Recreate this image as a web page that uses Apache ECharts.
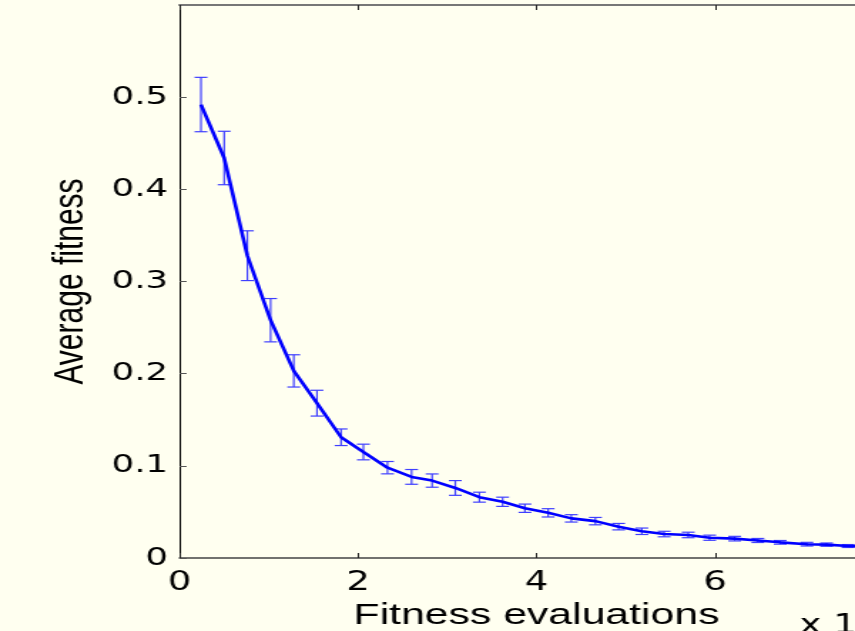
<!DOCTYPE html>
<html>
<head>
<meta charset="utf-8">
<script src="https://cdn.jsdelivr.net/npm/echarts@6/dist/echarts.min.js"></script>
<style>
html, body { margin: 0; padding: 0; background: #fffff0; overflow: hidden; }
/* the original figure is stretched sideways, so draw narrow and widen */
#chart { width: 600px; height: 631px; transform: scaleX(1.425); transform-origin: 0 0; }
</style>
</head>
<body>
<div id="chart"></div>
<script>
// fitness evaluations (x 10^4)
var evals = [0.24, 0.50, 0.76, 1.02, 1.28, 1.54, 1.81, 2.06, 2.33, 2.60,
             2.83, 3.09, 3.36, 3.62, 3.87, 4.13, 4.39, 4.66, 4.92, 5.18,
             5.43, 5.70, 5.94, 6.22, 6.48, 6.73, 7.03, 7.25, 7.49, 7.76];
// average fitness
var avgFitness = [0.492, 0.434, 0.328, 0.258, 0.203, 0.168, 0.131, 0.115, 0.098, 0.088,
                  0.084, 0.076, 0.066, 0.061, 0.054, 0.049, 0.043, 0.040, 0.034, 0.029,
                  0.026, 0.025, 0.022, 0.021, 0.019, 0.017, 0.015, 0.0145, 0.013, 0.0125];
// half height of each error bar
var errHalf = [0.0295, 0.029, 0.027, 0.0235, 0.0175, 0.014, 0.009, 0.0085, 0.0067, 0.008,
               0.0072, 0.008, 0.0054, 0.005, 0.0045, 0.0045, 0.004, 0.004, 0.0035, 0.0035,
               0.003, 0.003, 0.0028, 0.0025, 0.0022, 0.002, 0.002, 0.0018, 0.0016, 0.0015];
var xTickLabels = ['0', '2', '4', '6', '8'];
var yTickLabels = ['0', '0.1', '0.2', '0.3', '0.4', '0.5', '0.6'];

var lineData = evals.map(function (x, i) { return [x, avgFitness[i]]; });
var errData = evals.map(function (x, i) {
    return [x, avgFitness[i] - errHalf[i], avgFitness[i] + errHalf[i]];
});

var font = 'Liberation Sans, Arial, Helvetica, sans-serif';
var tickFont = 'DejaVu Sans, sans-serif';
var chart = echarts.init(document.getElementById('chart'));
chart.setOption({
    animation: false,
    backgroundColor: '#fffff0',
    grid: { left: 126, right: -27, top: 5, bottom: 73, outerBoundsMode: 'none' },
    xAxis: [{
        type: 'value', min: 0, max: 8, interval: 2, position: 'bottom',
        axisLine: { lineStyle: { color: '#444', width: 1.5 } },
        axisTick: { inside: true, length: 5, lineStyle: { color: '#222' } },
        splitLine: { show: false },
        axisLabel: {
            color: '#000', fontSize: 26, fontFamily: tickFont, margin: 12,
            showMaxLabel: false,
            formatter: function (v) { return xTickLabels[Math.round(v / 2)]; }
        },
        name: 'Fitness evaluations', nameLocation: 'middle', nameGap: 38,
        nameTextStyle: { color: '#000', fontSize: 30, fontFamily: font }
    }, {
        type: 'value', min: 0, max: 8, interval: 2, position: 'top',
        axisLine: { lineStyle: { color: '#777', width: 2 } },
        axisTick: { inside: true, length: 5, lineStyle: { color: '#222' } },
        axisLabel: { show: false },
        splitLine: { show: false }
    }],
    yAxis: {
        type: 'value', min: 0, max: 0.6, interval: 0.1,
        axisLine: { lineStyle: { color: '#000', width: 1 } },
        axisTick: { inside: true, length: 5, lineStyle: { color: '#555' } },
        splitLine: { show: false },
        axisLabel: {
            color: '#000', fontSize: 25, fontFamily: tickFont, margin: 8,
            showMaxLabel: false,
            formatter: function (v) { return yTickLabels[Math.round(v * 10)]; }
        },
        name: 'Average fitness', nameLocation: 'middle', nameGap: 61,
        nameTextStyle: { color: '#000', fontSize: 30, fontFamily: font }
    },
    graphic: [{
        type: 'text', left: 561, top: 613,
        style: {
            text: 'x 10{s|4}', fill: '#000', fontSize: 26, fontFamily: tickFont,
            rich: { s: { fontSize: 18, verticalAlign: 'top', fontFamily: tickFont } }
        }
    }],
    series: [{
        type: 'custom',
        data: errData,
        encode: { x: 0, y: [1, 2] },
        z: 2,
        renderItem: function (params, api) {
            var x = api.value(0);
            var lo = api.coord([x, api.value(1)]);
            var hi = api.coord([x, api.value(2)]);
            var w = 4.5;
            var st = { stroke: '#3f3fff', lineWidth: 1.2 };
            return {
                type: 'group',
                children: [
                    { type: 'line', shape: { x1: lo[0], y1: lo[1], x2: hi[0], y2: hi[1] }, style: st },
                    { type: 'line', shape: { x1: lo[0] - w, y1: lo[1], x2: lo[0] + w, y2: lo[1] }, style: st },
                    { type: 'line', shape: { x1: hi[0] - w, y1: hi[1], x2: hi[0] + w, y2: hi[1] }, style: st }
                ]
            };
        }
    }, {
        type: 'line',
        data: lineData,
        z: 3,
        symbol: 'none',
        lineStyle: { color: '#0000ff', width: 2.6 }
    }]
});
</script>
</body>
</html>
